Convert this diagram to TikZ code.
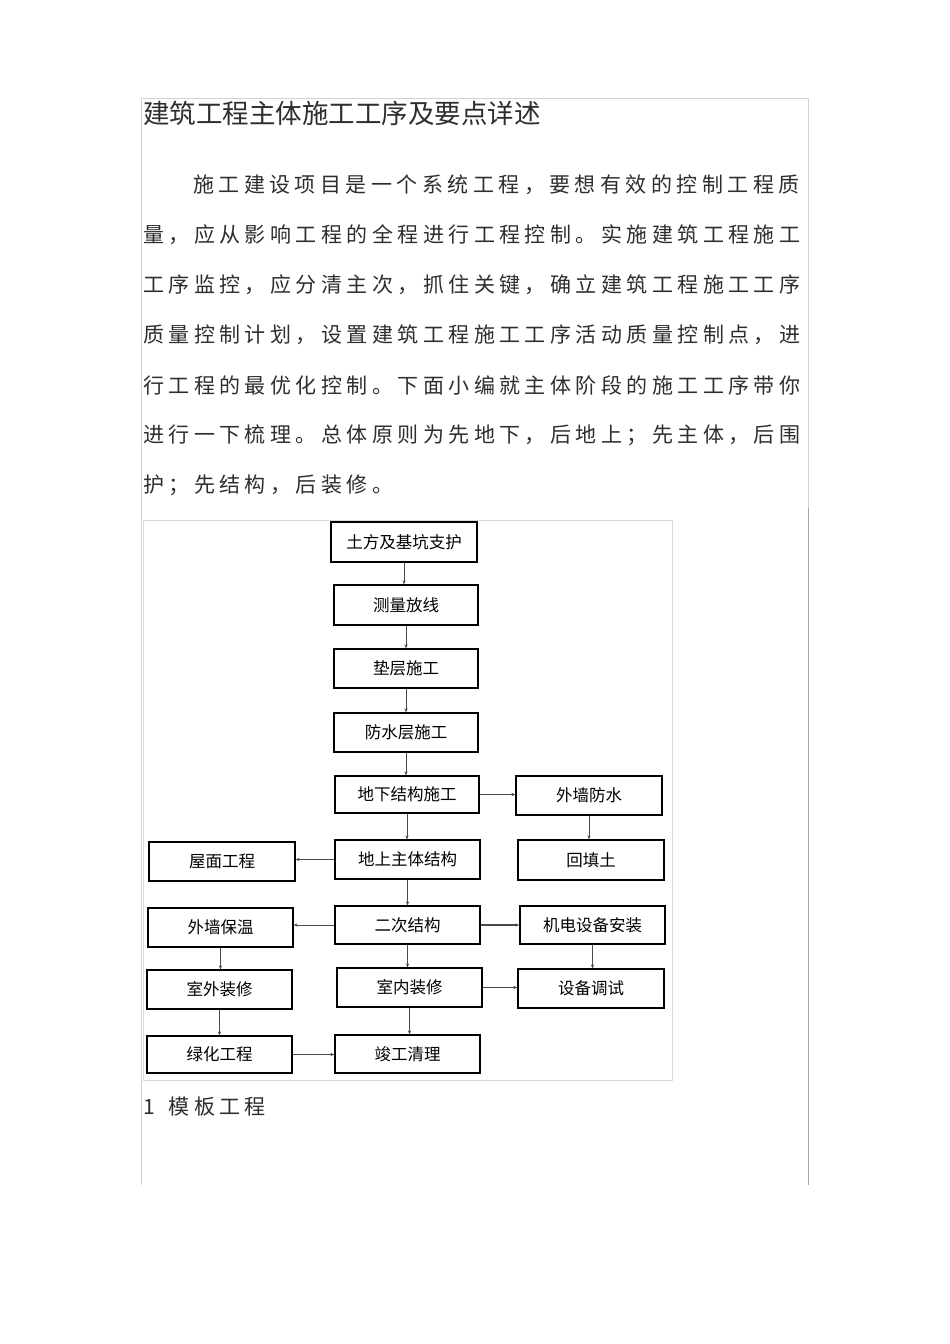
\documentclass[tikz,border=0pt]{standalone}
\usepackage{fontspec}
\usetikzlibrary{arrows.meta}
\newfontfamily\cjk{Noto Sans CJK SC}
\definecolor{txt}{HTML}{2E2E2E}
\definecolor{arr}{HTML}{4A4A4A}
\ExplSyntaxOn
\NewDocumentCommand\spaced{m}{\tl_map_inline:nn{#1}{\makebox[25.45pt][l]{##1}}}
\ExplSyntaxOff
\tikzset{
  stepbox/.style={draw=black, line width=1.2pt, fill=white, inner sep=0pt,
    minimum width=145pt, minimum height=39pt, font=\cjk\fontsize{16.5}{16.5}\selectfont, text=black},
  flow/.style={draw=arr, line width=0.9pt, -{Stealth[length=4pt,width=3.2pt]}},
  bodyline/.style={anchor=west, inner sep=0pt, text=txt, font=\cjk\fontsize{21}{22}\selectfont},
  frameline/.style={draw=black!18, line width=0.8pt}
}
\begin{document}
\begin{tikzpicture}[x=1pt,y=-1pt]
\useasboundingbox (0,0) rectangle (950,1344);
\fill[white] (0,0) rectangle (950,1344);
% page frame
\draw[frameline] (141,1185) -- (141,98) -- (808,98) -- (808,508);
\draw[draw=black!35, line width=0.9pt] (808,508) -- (808,1185);
% image frame
\draw[draw=black!15, line width=0.8pt] (143,520) rectangle (672,1080);
% title
\node[anchor=west, inner sep=0pt, text=txt, font=\cjk\fontsize{26.5}{28}\selectfont] (title) at (143,113) {建筑工程主体施工工序及要点详述};
% body
\node[bodyline] (p1) at (193,185) {\spaced{施工建设项目是一个系统工程，要想有效的控制工程质}};
\node[bodyline] (p2) at (143,235) {\spaced{量，应从影响工程的全程进行工程控制。实施建筑工程施工}};
\node[bodyline] (p3) at (143,285) {\spaced{工序监控，应分清主次，抓住关键，确立建筑工程施工工序}};
\node[bodyline] (p4) at (143,335) {\spaced{质量控制计划，设置建筑工程施工工序活动质量控制点，进}};
\node[bodyline] (p5) at (143,385) {\spaced{行工程的最优化控制。下面小编就主体阶段的施工工序带你}};
\node[bodyline] (p6) at (143,435) {\spaced{进行一下梳理。总体原则为先地下，后地上；先主体，后围}};
\node[bodyline] (p7) at (143,485) {\spaced{护；先结构，后装修。}};
\node[bodyline] (h1) at (143,1107) {\spaced{1模板工程}};
% flowchart boxes
\node[stepbox, minimum width=146pt, minimum height=40pt] (n1) at (404,542) {土方及基坑支护};
\node[stepbox, minimum width=144pt, minimum height=40pt] (n2) at (406,605) {测量放线};
\node[stepbox, minimum width=144pt] (n3) at (406,668.5) {垫层施工};
\node[stepbox, minimum width=144pt] (n4) at (406,732.5) {防水层施工};
\node[stepbox, minimum width=144pt, minimum height=37pt] (n5) at (407,794.5) {地下结构施工};
\node[stepbox, minimum width=146pt] (w1) at (589,795.5) {外墙防水};
\node[stepbox] (n6) at (407.5,859.5) {地上主体结构};
\node[stepbox, minimum width=146pt] (l1) at (222,861.5) {屋面工程};
\node[stepbox, minimum width=146pt, minimum height=40pt] (w2) at (591,860) {回填土};
\node[stepbox, minimum height=38pt] (n7) at (407.5,925) {二次结构};
\node[stepbox] (l2) at (220.5,927.5) {外墙保温};
\node[stepbox, minimum height=38pt] (r1) at (592.5,925) {机电设备安装};
\node[stepbox] (l3) at (219.5,989.5) {室外装修};
\node[stepbox] (n8) at (409.5,987.5) {室内装修};
\node[stepbox, minimum width=146pt] (r2) at (591,988.5) {设备调试};
\node[stepbox, minimum height=37pt] (l4) at (219.5,1054.5) {绿化工程};
\node[stepbox, minimum height=38pt] (n9) at (407.5,1054) {竣工清理};
% vertical connectors
\draw[flow] (n1.south) -- (n1.south |- n2.north);
\draw[flow] (n2.south) -- (n2.south |- n3.north);
\draw[flow] (n3.south) -- (n3.south |- n4.north);
\draw[flow] (n4.south) -- (n4.south |- n5.north);
\draw[flow] (n5.south) -- (n5.south |- n6.north);
\draw[flow] (n6.south) -- (n6.south |- n7.north);
\draw[flow] (n7.south) -- (n7.south |- n8.north);
\draw[flow] (n8.south) -- (n8.south |- n9.north);
\draw[flow] (w1.south) -- (w1.south |- w2.north);
\draw[flow] (r1.south) -- (r1.south |- r2.north);
\draw[flow] (l2.south) -- (l2.south |- l3.north);
\draw[flow] (l3.south) -- (l3.south |- l4.north);
% horizontal connectors
\draw[flow] (n5.east) -- (n5.east -| w1.west);
\draw[flow] (n6.west) -- (n6.west -| l1.east);
\draw[flow] (n7.west) -- (n7.west -| l2.east);
\draw[flow, line width=1.4pt] (n7.east) -- (n7.east -| r1.west);
\draw[flow] (n8.east) -- (n8.east -| r2.west);
\draw[flow] (l4.east) -- (l4.east -| n9.west);
\end{tikzpicture}
\end{document}
